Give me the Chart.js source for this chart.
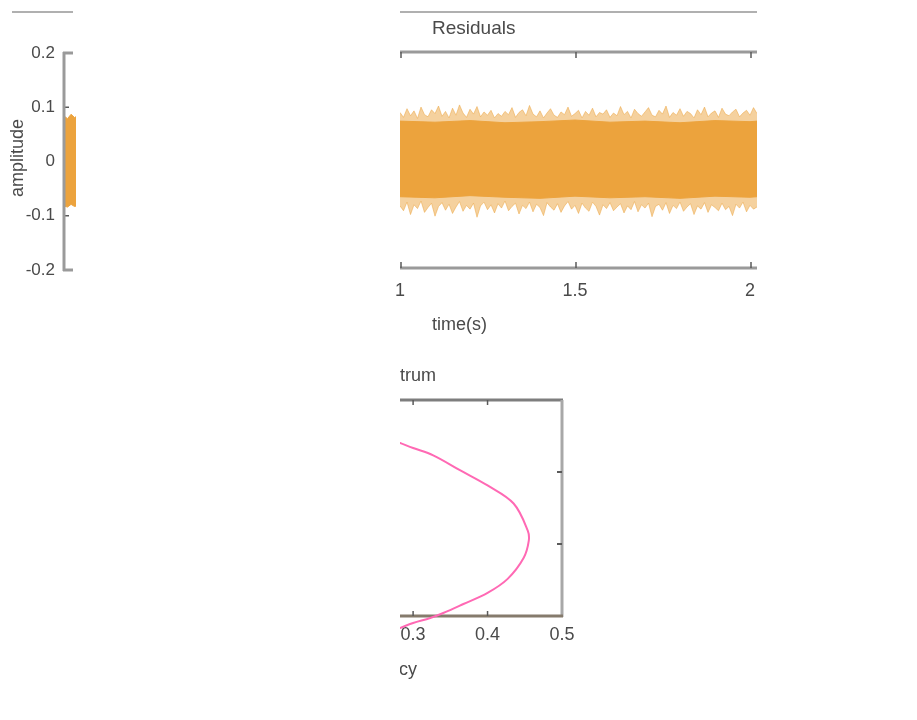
<!DOCTYPE html>
<html>
<head>
<meta charset="utf-8">
<script src="https://cdn.jsdelivr.net/npm/chart.js@4/dist/chart.umd.min.js"></script>
<style>
  html, body { margin: 0; padding: 0; background: #fff; width: 917px; height: 720px; overflow: hidden; }
  body { position: relative; }
  canvas { position: absolute; }
</style>
</head>
<body>
<canvas id="amp" width="76" height="300" style="left:0;top:0"></canvas>
<canvas id="resid" width="375" height="345" style="left:390px;top:0"></canvas>
<canvas id="spec" width="200" height="330" style="left:400px;top:360px"></canvas>
<script>
// ---- signal panel (amplitude) ----
const ampTimes = [0, 0.01, 0.02, 0.03, 0.04];
const ampUpper = [0.084, 0.079, 0.087, 0.081, 0.085];
const ampLower = [-0.082, -0.084, -0.079, -0.083, -0.081];
const ampTicks = [-0.2, -0.1, 0, 0.1, 0.2];
const ampTickLabels = ['-0.2', '-0.1', '0', '0.1', '0.2'];

// ---- residuals panel: envelope of the residual trace, sampled every 0.01 s from 1.00 s ----
const residStart = 1.0;
const residStep = 0.01;
const residUpper = [
  0.088,0.079,0.095,0.082,0.091,0.077,0.098,0.084,0.080,0.093,
  0.086,0.100,0.081,0.090,0.078,0.096,0.083,0.102,0.087,0.079,
  0.094,0.085,0.099,0.080,0.089,0.083,0.092,0.078,0.086,0.081,
  0.090,0.084,0.097,0.079,0.088,0.093,0.082,0.101,0.085,0.080,
  0.091,0.078,0.087,0.095,0.083,0.079,0.089,0.084,0.098,0.081,
  0.086,0.092,0.078,0.090,0.083,0.096,0.080,0.088,0.085,0.093,
  0.079,0.087,0.082,0.099,0.084,0.090,0.078,0.094,0.086,0.081,
  0.089,0.097,0.083,0.080,0.092,0.085,0.100,0.079,0.088,0.083,
  0.095,0.081,0.090,0.086,0.078,0.093,0.084,0.098,0.080,0.087,
  0.091,0.079,0.096,0.085,0.082,0.089,0.094,0.080,0.087,0.092,
  0.083,0.097,0.086
];
const residLower = [
  -0.085,-0.094,-0.078,-0.101,-0.083,-0.090,-0.076,-0.097,-0.088,-0.080,
  -0.104,-0.086,-0.079,-0.093,-0.082,-0.099,-0.087,-0.077,-0.095,-0.084,
  -0.091,-0.080,-0.106,-0.085,-0.078,-0.092,-0.083,-0.098,-0.081,-0.089,
  -0.076,-0.094,-0.086,-0.080,-0.100,-0.084,-0.090,-0.078,-0.096,-0.082,
  -0.088,-0.103,-0.079,-0.087,-0.093,-0.081,-0.097,-0.085,-0.077,-0.091,
  -0.084,-0.099,-0.080,-0.089,-0.095,-0.078,-0.086,-0.102,-0.083,-0.090,
  -0.079,-0.094,-0.087,-0.081,-0.098,-0.085,-0.092,-0.077,-0.096,-0.083,
  -0.089,-0.080,-0.105,-0.086,-0.082,-0.093,-0.079,-0.099,-0.084,-0.090,
  -0.078,-0.095,-0.087,-0.081,-0.101,-0.085,-0.091,-0.079,-0.097,-0.083,
  -0.088,-0.094,-0.080,-0.092,-0.086,-0.103,-0.082,-0.089,-0.078,-0.096,
  -0.084,-0.091,-0.087
];
// dense core of the trace
const coreTimes = [1.00, 1.10, 1.20, 1.30, 1.40, 1.50, 1.60, 1.70, 1.80, 1.90, 2.00, 2.02];
const coreUpper = [0.072, 0.070, 0.073, 0.069, 0.071, 0.074, 0.070, 0.072, 0.069, 0.073, 0.071, 0.072];
const coreLower = [-0.068, -0.070, -0.066, -0.069, -0.071, -0.067, -0.070, -0.068, -0.071, -0.067, -0.069, -0.068];
const residTicks = [1, 1.5, 2];
const residTickLabels = ['1', '1.5', '2'];

// ---- spectrum panel ----
const specFreq = [0.260, 0.2824, 0.300, 0.327, 0.3635, 0.400, 0.435, 0.454, 0.4554, 0.4486, 0.427, 0.400, 0.3676, 0.3405, 0.323, 0.300, 0.2824, 0.260];
const specMag  = [2.49, 2.403, 2.333, 2.232, 2.022, 1.813, 1.562, 1.186, 1.046, 0.809, 0.516, 0.321, 0.167, 0.042, -0.028, -0.098, -0.167, -0.255];
const specFreqTicks = [0.3, 0.4, 0.5];
const specFreqTickLabels = ['0.3', '0.4', '0.5'];
const specMagTicks = [0, 1, 2, 3];

// ---- styling ----
const FONT = "'Liberation Sans', Arial, sans-serif";
const INK = '#4a4a4a';
const SPINE = '#9a9a9a';
const TICK = '#5a5a5a';
const ORANGE = '#eca33d';
const ORANGE_SOFT = 'rgba(236,163,61,0.5)';
const PINK = '#ff69b4';

function seg(ctx, x1, y1, x2, y2, color, width) {
  ctx.save();
  ctx.strokeStyle = color;
  ctx.lineWidth = width;
  ctx.beginPath();
  ctx.moveTo(x1, y1);
  ctx.lineTo(x2, y2);
  ctx.stroke();
  ctx.restore();
}

function label(ctx, str, x, y, size, align, rotate) {
  ctx.save();
  ctx.font = size + 'px ' + FONT;
  ctx.fillStyle = INK;
  ctx.textAlign = align || 'left';
  ctx.textBaseline = 'middle';
  ctx.translate(x, y);
  if (rotate) ctx.rotate(rotate);
  ctx.fillText(str, 0, 0);
  ctx.restore();
}

const pts = (xs, ys) => xs.map((x, i) => ({ x: x, y: ys[i] }));
const band = (data, color, fill) => ({
  data: data, borderColor: color, backgroundColor: color, borderWidth: 1,
  pointRadius: 0, tension: 0, fill: fill
});
const base = {
  responsive: false,
  animation: false,
  events: [],
  plugins: { legend: { display: false }, tooltip: { enabled: false } }
};
const tickFont = { family: FONT, size: 18 };
// keep the plot edge where the layout padding puts it
const fixedHeight = h => s => { s.height = h; s.paddingLeft = 0; s.paddingRight = 0; };

// ================= amplitude panel =================
new Chart(document.getElementById('amp'), {
  type: 'line',
  data: {
    datasets: [
      band(pts(ampTimes, ampUpper), ORANGE, false),
      band(pts(ampTimes, ampLower), ORANGE, '-1')
    ]
  },
  options: Object.assign({}, base, {
    layout: { padding: { top: 53, bottom: 30, left: 0, right: 0 } },
    scales: {
      x: { type: 'linear', display: false, min: 0, max: 0.034 },
      y: {
        type: 'linear', min: -0.2, max: 0.2,
        afterBuildTicks: s => { s.ticks = ampTicks.map(v => ({ value: v })); },
        afterFit: s => { s.width = 64; },
        grid: { display: false, drawTicks: false },
        border: { display: false },
        ticks: { color: INK, font: { family: FONT, size: 17 }, padding: 9, callback: (v, i) => ampTickLabels[i] }
      }
    }
  }),
  plugins: [{
    id: 'ampFrame',
    beforeDatasetsDraw(chart) {
      const { ctx, chartArea: a, scales: { y } } = chart;
      ampTicks.forEach(v => {
        const py = y.getPixelForValue(v);
        seg(ctx, a.left, py, a.left + 5, py, TICK, 1.5);
      });
    },
    afterDatasetsDraw(chart) {
      const { ctx, chartArea: a } = chart;
      seg(ctx, a.left, a.top - 1, a.left, a.bottom + 1, SPINE, 3);
      seg(ctx, a.left - 1, a.top, a.right - 3, a.top, SPINE, 3);
      seg(ctx, a.left - 1, a.bottom, a.right - 3, a.bottom, SPINE, 3);
      seg(ctx, 12, 12, 73, 12, '#b0b0b0', 2);
      label(ctx, 'amplitude', 18, 158, 18, 'center', -Math.PI / 2);
    }
  }]
});

// ================= residuals panel =================
const residTimes = residUpper.map((_, i) => +(residStart + i * residStep).toFixed(2));
new Chart(document.getElementById('resid'), {
  type: 'line',
  data: {
    datasets: [
      Object.assign(band(pts(residTimes, residUpper), ORANGE_SOFT, false), { order: 1 }),
      Object.assign(band(pts(residTimes, residLower), ORANGE_SOFT, '-1'), { order: 1 }),
      Object.assign(band(pts(coreTimes, coreUpper), ORANGE, false), { order: 0 }),
      Object.assign(band(pts(coreTimes, coreLower), ORANGE, '-1'), { order: 0 })
    ]
  },
  options: Object.assign({}, base, {
    layout: { padding: { top: 52, bottom: 37, left: 10, right: 8 } },
    scales: {
      x: {
        type: 'linear', min: 1, max: 2.02,
        afterBuildTicks: s => { s.ticks = residTicks.map(v => ({ value: v })); },
        afterFit: fixedHeight(40),
        grid: { display: false, drawTicks: false },
        border: { display: false },
        ticks: { color: INK, font: tickFont, padding: 12, maxRotation: 0, callback: (v, i) => residTickLabels[i] }
      },
      y: { type: 'linear', display: false, min: -0.2, max: 0.2 }
    }
  }),
  plugins: [{
    id: 'residFrame',
    afterDatasetsDraw(chart) {
      const { ctx, chartArea: a, scales: { x } } = chart;
      seg(ctx, a.left, a.top, a.right, a.top, SPINE, 3);
      seg(ctx, a.left, a.bottom, a.right, a.bottom, SPINE, 3);
      residTicks.forEach(v => {
        const px = x.getPixelForValue(v) + 1;
        seg(ctx, px, a.top, px, a.top + 6, TICK, 1.5);
        seg(ctx, px, a.bottom, px, a.bottom - 6, TICK, 1.5);
      });
      seg(ctx, 10, 12, 367, 12, '#b0b0b0', 2);
      label(ctx, 'Residuals', 42, 29, 19, 'left');
      label(ctx, 'time(s)', 42, 325, 18, 'left');
    }
  }]
});

// ================= spectrum panel =================
new Chart(document.getElementById('spec'), {
  type: 'line',
  data: {
    datasets: [{
      data: pts(specFreq, specMag),
      borderColor: PINK, borderWidth: 2, pointRadius: 0, tension: 0.35,
      fill: false, clip: false
    }]
  },
  options: Object.assign({}, base, {
    layout: { padding: { top: 40, bottom: 34, left: 0, right: 38 } },
    scales: {
      x: {
        type: 'linear', min: 0.2824, max: 0.5,
        afterBuildTicks: s => { s.ticks = specFreqTicks.map(v => ({ value: v })); },
        afterFit: fixedHeight(40),
        grid: { display: false, drawTicks: false },
        border: { display: false },
        ticks: { color: INK, font: tickFont, padding: 8, maxRotation: 0, callback: (v, i) => specFreqTickLabels[i] }
      },
      y: { type: 'linear', display: false, min: 0, max: 3 }
    }
  }),
  plugins: [{
    id: 'specFrame',
    beforeDatasetsDraw(chart) {
      const { ctx, chartArea: a, scales: { x, y } } = chart;
      seg(ctx, a.left, a.top, a.right + 1, a.top, '#7e7e7e', 3);
      seg(ctx, a.right, a.top, a.right, a.bottom + 1, '#a8a8a8', 3);
      seg(ctx, a.left, a.bottom, a.right + 1, a.bottom, '#857b6c', 3);
      specFreqTicks.forEach(v => {
        const px = x.getPixelForValue(v);
        if (px >= a.right - 2) return;
        seg(ctx, px, a.top, px, a.top + 5, TICK, 1.5);
        seg(ctx, px, a.bottom, px, a.bottom - 5, TICK, 1.5);
      });
      specMagTicks.forEach(v => {
        const py = y.getPixelForValue(v);
        if (py <= a.top + 2 || py >= a.bottom - 2) return;
        seg(ctx, a.right, py, a.right - 5, py, TICK, 2);
      });
      ctx.save();
      ctx.font = '18px ' + FONT;
      const specW = ctx.measureText('Spec').width;
      const freqW = ctx.measureText('Frequency').width;
      ctx.restore();
      label(ctx, 'Spectrum', a.left - specW, 16, 18, 'left');
      label(ctx, 'Frequency', a.left + 17 - freqW, 310, 18, 'left');
    }
  }]
});
</script>
</body>
</html>
